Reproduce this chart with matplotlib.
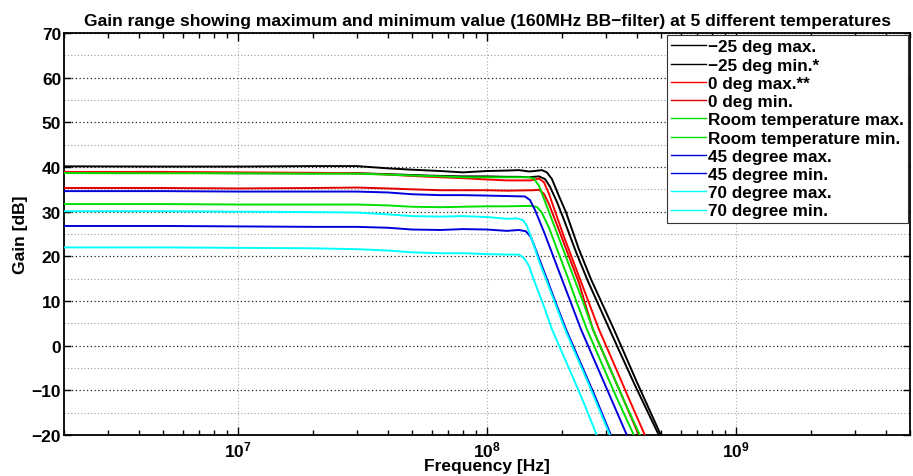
import numpy as np
import matplotlib
matplotlib.use("Agg")
import matplotlib.pyplot as plt
from matplotlib.ticker import FixedLocator, NullFormatter, LogLocator

plt.rcParams['font.family'] = ['Liberation Sans', 'DejaVu Sans']
plt.rcParams['font.weight'] = 'bold'
plt.rcParams['mathtext.fontset'] = 'custom'
plt.rcParams['mathtext.bf'] = 'Liberation Sans:bold'
plt.rcParams['mathtext.rm'] = 'Liberation Sans:bold'

# ---------------- data (frequency in MHz, gain in dB) ----------------
pb_freq = [2, 5, 10, 20, 30, 40, 50, 65, 80, 100, 120]

m25_max_pb = [40.15, 40.1, 40.1, 40.2, 40.2, 39.7, 39.4, 39.1, 38.8, 39.1, 39.2]
m25_max_rf = [134.4, 147.4, 155.0, 166.0, 174.0, 182.3, 194.5, 207.5, 233.9, 261.5, 323.1, 399.5, 498.9]
m25_max_rg = [39.3, 39.0, 39.1, 39.3, 38.8, 37.3, 33.5, 29.9, 21.6, 14.9, 3.7, -8.1, -20.0]

m25_min_pb = [38.7, 38.7, 38.6, 38.6, 38.6, 38.4, 38.2, 38.0, 37.9, 37.9, 37.8]
m25_min_rf = [134.4, 147.4, 161.7, 171.0, 179.0, 190.9, 203.7, 229.5, 254.0, 311.4, 388.6, 489.6]
m25_min_rg = [37.8, 37.7, 37.9, 37.3, 35.6, 32.2, 28.2, 20.5, 14.5, 3.5, -8.3, -20.0]

d0_max_pb = [38.9, 38.9, 38.8, 38.7, 38.6, 38.3, 38.0, 37.7, 37.5, 37.2, 37.0]
d0_max_rf = [134.4, 150.0, 161.7, 169.3, 177.4, 185.7, 203.7, 223.4, 244.9, 281.3, 323.1, 371.1, 430.3]
d0_max_rg = [37.0, 37.0, 37.4, 36.6, 34.0, 30.8, 24.4, 18.5, 12.6, 3.7, -4.0, -11.8, -20.0]

d0_min_pb = [35.3, 35.3, 35.2, 35.3, 35.4, 35.2, 35.0, 34.8, 34.8, 34.8, 34.7]
d0_min_rf = [154.3, 161.7, 169.3, 177.4, 194.5, 213.3, 233.9, 266.1, 308.5, 354.3, 407.0]
d0_min_rg = [34.8, 34.9, 34.0, 31.7, 25.9, 20.0, 14.1, 3.7, -4.5, -12.2, -20.0]

rt_max_pb = [38.65, 38.6, 38.6, 38.5, 38.5, 38.3, 38.1, 37.9, 37.7, 37.7, 37.7]
rt_max_rf = [147.4, 154.3, 161.7, 169.3, 185.7, 203.7, 223.4, 244.9, 266.1, 308.5, 354.3, 411.0]
rt_max_rg = [37.7, 37.4, 35.8, 32.9, 27.0, 21.1, 15.2, 9.3, 3.7, -4.5, -12.2, -20.0]

rt_min_pb = [31.7, 31.7, 31.6, 31.6, 31.6, 31.4, 31.1, 31.0, 31.1, 31.2, 31.2]
rt_min_rf = [151.5, 159.0, 166.0, 177.4, 194.5, 211.3, 229.5, 251.9, 281.3, 329.0, 388.6]
rt_min_rg = [31.3, 31.0, 29.8, 26.4, 20.5, 15.2, 9.6, 3.7, -2.5, -11.2, -20.0]

d45_max_pb = [34.6, 34.6, 34.5, 34.5, 34.5, 34.3, 33.9, 33.7, 33.7, 33.6, 33.5]
d45_max_rf = [142.1, 148.8, 155.8, 169.3, 185.7, 199.9, 217.3, 238.3, 268.6, 308.5, 364.3]
d45_max_rg = [33.4, 32.6, 30.4, 25.5, 19.6, 14.9, 9.6, 3.7, -3.0, -10.7, -20.0]

d45_min_pb = [26.8, 26.8, 26.7, 26.6, 26.6, 26.4, 26.0, 25.9, 26.1, 26.0, 25.7]
d45_min_rf = [134.4, 143.3, 150.1, 157.2, 174.1, 189.2, 207.5, 233.9, 268.6, 314.4]
d45_min_rg = [25.9, 25.6, 24.3, 21.4, 14.9, 9.5, 3.7, -3.0, -10.7, -20.0]

d70_max_pb = [30.1, 30.1, 30.0, 29.9, 29.8, 29.4, 29.0, 28.9, 29.0, 28.8, 28.4]
d70_max_rf = [131.9, 139.5, 144.7, 150.1, 161.7, 172.5, 185.7, 205.6, 223.4, 256.6, 311.4]
d70_max_rg = [28.5, 28.1, 26.8, 24.4, 19.0, 14.9, 10.2, 3.7, -1.0, -8.7, -20.0]

d70_min_pb = [22.0, 22.0, 21.9, 21.8, 21.6, 21.3, 20.9, 20.7, 20.7, 20.5, 20.4]
d70_min_rf = [134.4, 140.8, 147.4, 154.3, 169.3, 182.3, 203.7, 223.4, 249.0, 275.7]
d70_min_rg = [20.4, 19.6, 17.9, 14.7, 8.8, 3.7, -2.5, -7.6, -13.8, -20.0]

labels = ["\u221225 deg max.", "\u221225 deg min.*", "0 deg max.**", "0 deg min.",
          "Room temperature max.", "Room temperature min.",
          "45 degree max.", "45 degree min.", "70 degree max.", "70 degree min."]
colors = ["#000000", "#000000", "#ff0000", "#e00000", "#00e000", "#00e000",
          "#0000dd", "#0000dd", "#00ffff", "#00ffff"]

series = [
    (m25_max_pb, m25_max_rf, m25_max_rg),
    (m25_min_pb, m25_min_rf, m25_min_rg),
    (d0_max_pb, d0_max_rf, d0_max_rg),
    (d0_min_pb, d0_min_rf, d0_min_rg),
    (rt_max_pb, rt_max_rf, rt_max_rg),
    (rt_min_pb, rt_min_rf, rt_min_rg),
    (d45_max_pb, d45_max_rf, d45_max_rg),
    (d45_min_pb, d45_min_rf, d45_min_rg),
    (d70_max_pb, d70_max_rf, d70_max_rg),
    (d70_min_pb, d70_min_rf, d70_min_rg),
]

# ---------------- figure ----------------
fig = plt.figure(figsize=(9.13, 4.77), dpi=100)
ax = fig.add_axes([64/913, 1-436/477, 846/913, 402/477])

for (pb, rf, rg), lab, col in zip(series, labels, colors):
    f = np.array(pb_freq + rf) * 1e6
    g = np.array(pb + rg)
    ax.semilogx(f, g, color=col, lw=1.4, label=lab, zorder=3)

ax.set_xlim(2e6, 5e9)
ax.set_ylim(-20, 70)

ax.xaxis.set_major_locator(FixedLocator([1e7, 1e8, 1e9]))
ax.set_xticklabels([r'$\mathbf{10^{7}}$', r'$\mathbf{10^{8}}$', r'$\mathbf{10^{9}}$'])
ax.xaxis.set_minor_locator(LogLocator(base=10, subs=np.arange(2, 10), numticks=20))
ax.xaxis.set_minor_formatter(NullFormatter())
ax.set_yticks(np.arange(-20, 71, 10))
ax.set_yticks(np.arange(-15, 70, 10), minor=True)

ax.tick_params(axis='both', which='both', direction='in', top=True, right=True,
               width=1.0, labelsize=12.5)
ax.tick_params(axis='x', which='major', length=6, pad=3)
ax.tick_params(axis='x', which='minor', length=3.5)
ax.tick_params(axis='y', which='major', length=5, pad=2)
ax.tick_params(axis='y', which='minor', length=0)

ax.grid(True, axis='y', which='major', linestyle=(0, (1, 2)), color='#222222', lw=0.9, zorder=1)
ax.grid(True, axis='y', which='minor', linestyle=(0, (1, 2)), color='#9a9a9a', lw=0.8, zorder=1)
ax.grid(True, axis='x', which='major', linestyle=(0, (1, 2)), color='#aaaaaa', lw=0.8, zorder=1)

for s in ax.spines.values():
    s.set_linewidth(1.3)

for lbl in ax.get_yticklabels():
    lbl.set_fontweight('bold')

ax.set_title("Gain range showing maximum and minimum value (160MHz BB\u2212filter) at 5 different temperatures",
             fontsize=12.6, fontweight='bold', pad=6)
ax.set_xlabel("Frequency [Hz]", fontsize=12.5, fontweight='bold', labelpad=-1)
ax.set_ylabel("Gain [dB]", fontsize=12.5, fontweight='bold', labelpad=2.5)

leg = ax.legend(loc='upper right', bbox_to_anchor=(0.998, 0.995), borderaxespad=0,
                fontsize=12.3, labelspacing=0.19, handlelength=2.0, handletextpad=0.15,
                borderpad=0.25, fancybox=False, framealpha=1, edgecolor='#333333')
leg.get_frame().set_linewidth(0.8)
for t in leg.get_texts():
    t.set_fontweight('bold')
for h in leg.get_lines():
    h.set_linewidth(1.0)

fig.savefig("out.png", dpi=100)
